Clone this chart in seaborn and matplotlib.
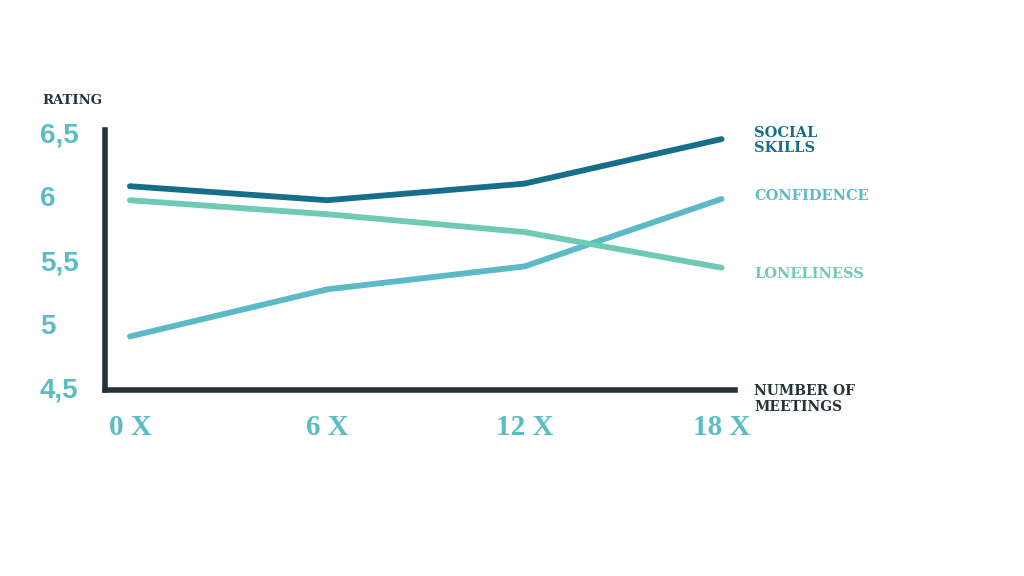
import numpy as np
import pandas as pd
import matplotlib
matplotlib.use("Agg")
import matplotlib.pyplot as plt
import seaborn as sns

meetings = [0, 6, 12, 18]
x_labels = ["0 X", "6 X", "12 X", "18 X"]
social_skills = [6.08, 5.97, 6.10, 6.45]
confidence = [4.90, 5.27, 5.45, 5.98]
loneliness = [5.97, 5.86, 5.72, 5.44]
y_ticks = [4.5, 5, 5.5, 6, 6.5]
y_labels = ["4,5", "5", "5,5", "6", "6,5"]
series_names = ["SOCIAL\nSKILLS", "CONFIDENCE", "LONELINESS"]

df = pd.DataFrame({
    "meetings": meetings * 3,
    "rating": social_skills + confidence + loneliness,
    "series": [series_names[0]] * 4 + [series_names[1]] * 4 + [series_names[2]] * 4,
})

colors = {series_names[0]: "#176e8a", series_names[1]: "#5cb9c6", series_names[2]: "#6fcab5"}
axis_col = "#22333a"
tick_col = "#5bbcc4"

sns.set_theme(style="white")
fig = plt.figure(figsize=(10.24, 5.76), dpi=100)
ax = fig.add_axes([0.1025, 0.323, 0.615, 0.451])

sns.lineplot(data=df, x="meetings", y="rating", hue="series", palette=colors,
             linewidth=4.2, legend=False, ax=ax, solid_capstyle="round")

ax.set_xlim(-0.76, 18.4)
ax.set_ylim(4.48, 6.52)
sns.despine(ax=ax)
for s in ["left", "bottom"]:
    ax.spines[s].set_color(axis_col)
    ax.spines[s].set_linewidth(4)
ax.set_xlabel("")
ax.set_ylabel("")

ax.set_yticks(y_ticks)
ax.set_yticklabels(y_labels, fontfamily="Liberation Sans", fontweight="bold",
                   fontsize=20, color=tick_col)
for t in ax.get_yticklabels():
    t.set_horizontalalignment("left")
ax.tick_params(axis="y", length=0, pad=47)

ax.set_xticks(meetings)
ax.set_xticklabels(x_labels, fontfamily="Liberation Serif", fontweight="bold",
                   fontsize=21, color=tick_col)
ax.tick_params(axis="x", length=0, pad=17)

# series labels at right
label_y = {series_names[0]: 6.44, series_names[1]: 6.0, series_names[2]: 5.39}
for name in series_names:
    ax.text(19.0, label_y[name], name, color=colors[name], fontsize=10.5,
            fontfamily="DejaVu Serif", fontweight="bold", va="center", ha="left",
            linespacing=1.15, clip_on=False)

ax.text(19.0, 4.41, "NUMBER OF\nMEETINGS", color=axis_col, fontsize=10,
        fontfamily="DejaVu Serif", fontweight="bold", va="center", ha="left",
        linespacing=1.15, clip_on=False)
fig.text(42 / 1024, 1 - 100 / 576, "RATING", color=axis_col, fontsize=9.5,
         fontfamily="DejaVu Serif", fontweight="bold", va="center", ha="left")

fig.savefig("out.png", dpi=100, facecolor="white")
